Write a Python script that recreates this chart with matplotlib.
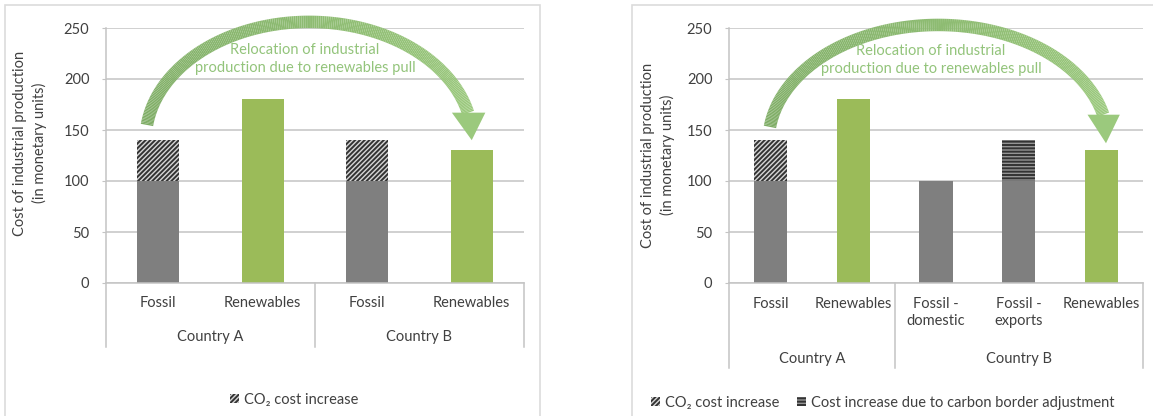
import matplotlib
matplotlib.use('Agg')
import matplotlib.pyplot as plt
import numpy as np
from matplotlib.patches import Patch, Rectangle, Polygon
from matplotlib.collections import LineCollection
from matplotlib.transforms import blended_transform_factory

plt.rcParams['font.family'] = ['Lato', 'DejaVu Sans']
plt.rcParams['hatch.color'] = '#333333'
plt.rcParams['hatch.linewidth'] = 1.4

# left panel: carbon price only
left_labels = ['Fossil', 'Renewables', 'Fossil', 'Renewables']
left_kinds = ['fossil', 'renewable', 'fossil', 'renewable']
left_groups = ['Country A', 'Country B']
left_group_sizes = [2, 2]
left_base = [100, 180, 100, 130]
left_co2 = [40, 0, 40, 0]
left_cba = [0, 0, 0, 0]

# right panel: carbon price plus border adjustment
right_labels = ['Fossil', 'Renewables', 'Fossil -\ndomestic', 'Fossil -\nexports', 'Renewables']
right_kinds = ['fossil', 'renewable', 'fossil', 'fossil', 'renewable']
right_groups = ['Country A', 'Country B']
right_group_sizes = [2, 3]
right_base = [100, 180, 100, 100, 130]
right_co2 = [40, 0, 0, 0, 0]
right_cba = [0, 0, 0, 40, 0]

W, H = 1153, 416
GRAY = '#7f7f7f'
GREEN = '#9bbb59'
GRID = '#c4c4c4'
TXT = '#404040'
ARROW_TXT = '#93c47b'
FS = 10.5
DIAG = '///////'
HORIZ = '-----'

fig = plt.figure(figsize=(W / 100, H / 100), dpi=100)


def px_axes(x0, x1, y0, y1):
    return fig.add_axes([x0 / W, 1 - y1 / H, (x1 - x0) / W, (y1 - y0) / H])


def draw_panel(ax, labels, kinds, groups, sizes, base, co2, cba, lab_y, lab_va, grp_y, sep_y):
    n = len(labels)
    x = np.arange(n)
    colors = [GRAY if k == 'fossil' else GREEN for k in kinds]
    ax.bar(x, base, width=0.4, color=colors, linewidth=0, zorder=2)
    ax.bar(x, co2, bottom=base, width=0.4, facecolor='#d6d6d6', hatch=DIAG,
           linewidth=0, zorder=2)
    ax.bar(x, cba, bottom=base, width=0.4, facecolor='#959595', hatch=HORIZ,
           linewidth=0, zorder=2)

    ax.set_xlim(-0.5, n - 0.5)
    ax.set_ylim(0, 250)
    ax.set_yticks(range(0, 251, 50))
    ax.yaxis.grid(True, color=GRID, lw=1.1, zorder=0)
    ax.set_axisbelow(True)
    ax.set_xticks([])
    for s in ['top', 'right']:
        ax.spines[s].set_visible(False)
    for s in ['left', 'bottom']:
        ax.spines[s].set_color(GRID)
        ax.spines[s].set_linewidth(1.1)
    ax.tick_params(axis='y', length=3, color=GRID, labelsize=FS, labelcolor=TXT, pad=9)

    tr = blended_transform_factory(ax.transData, ax.transAxes)
    for xi, lab in zip(x, labels):
        ax.text(xi, lab_y, lab, transform=tr, ha='center', va=lab_va, fontsize=FS,
                color=TXT, linespacing=1.3)
    edges = np.concatenate([[0], np.cumsum(sizes)]) - 0.5
    for e in edges:
        ax.plot([e, e], [0, sep_y], transform=tr, color=GRID, lw=1.1, clip_on=False)
    for g, a, b in zip(groups, edges[:-1], edges[1:]):
        ax.text((a + b) / 2, grp_y, g, transform=tr, ha='center', va='center',
                fontsize=FS, color=TXT)


def draw_arrow(ax, cx, cy, rx, ry, t0, t1, tip, left, right):
    t = np.radians(np.linspace(t0, t1, 240))
    pts = np.column_stack([cx + rx * np.cos(t), cy + ry * np.sin(t)])
    segs = np.stack([pts[:-1], pts[1:]], axis=1)
    c0 = np.array(matplotlib.colors.to_rgb('#7fad66'))
    c1 = np.array(matplotlib.colors.to_rgb('#9bc97d'))
    f = np.linspace(0, 1, len(segs))[:, None]
    lc = LineCollection(segs, colors=c0 * (1 - f) + c1 * f, linewidths=9,
                        capstyle='butt', clip_on=False, zorder=4)
    ax.add_collection(lc)
    ax.add_patch(Polygon([left, tip, right], closed=True, facecolor='#9bc97d',
                         edgecolor='none', clip_on=False, zorder=4))


axL = px_axes(106, 524, 28, 283)
draw_panel(axL, left_labels, left_kinds, left_groups, left_group_sizes,
           left_base, left_co2, left_cba, -0.078, 'center', -0.212, -0.251)
draw_arrow(axL, 1.443, 140, 1.564, 116, 172.6, 13.4, (3.0, 140), (2.81, 167), (3.13, 167))
axL.text(1.404, 219.5, 'Relocation of industrial\nproduction due to renewables pull',
         ha='center', va='center', fontsize=FS, color=ARROW_TXT, linespacing=1.3, zorder=5)

axR = px_axes(729, 1143, 28, 283)
draw_panel(axR, right_labels, right_kinds, right_groups, right_group_sizes,
           right_base, right_co2, right_cba, -0.055, 'top', -0.298, -0.333)
draw_arrow(axR, 2.027, 138, 2.05, 115, 172.5, 13.6, (4.053, 137), (3.83, 165), (4.22, 165))
axR.text(1.94, 218.5, 'Relocation of industrial\nproduction due to renewables pull',
         ha='center', va='center', fontsize=FS, color=ARROW_TXT, linespacing=1.3, zorder=5)

ylab = 'Cost of industrial production\n(in monetary units)'
fig.text(30 / W, 1 - 143 / H, ylab, rotation=90, ha='center', va='center',
         fontsize=FS, color=TXT, linespacing=1.45)
fig.text(658 / W, 1 - 155 / H, ylab, rotation=90, ha='center', va='center',
         fontsize=FS, color=TXT, linespacing=1.45)

co2_patch = Patch(facecolor='#d6d6d6', hatch=DIAG, label='CO₂ cost increase')
cba_patch = Patch(facecolor='#959595', hatch=HORIZ,
                  label='Cost increase due to carbon border adjustment')
leg_kw = dict(loc='center', frameon=False, fontsize=FS, handlelength=0.6,
              handleheight=0.6, handletextpad=0.35, columnspacing=1.2, labelcolor=TXT)
fig.legend(handles=[co2_patch], bbox_to_anchor=(294 / W, 1 - 400 / H), **leg_kw)
fig.legend(handles=[co2_patch, cba_patch], ncol=2,
           bbox_to_anchor=(883 / W, 1 - 403 / H), **leg_kw)

# panel frames
fig.add_artist(Rectangle((5 / W, -0.1), 535 / W, 1.1 - 5 / H, transform=fig.transFigure,
                         fill=False, edgecolor='#dcdcdc', lw=1.2))
fig.add_artist(Rectangle((632 / W, -0.1), 1.0, 1.1 - 5 / H, transform=fig.transFigure,
                         fill=False, edgecolor='#dcdcdc', lw=1.2))

fig.savefig('out.png', dpi=100, facecolor='white')
